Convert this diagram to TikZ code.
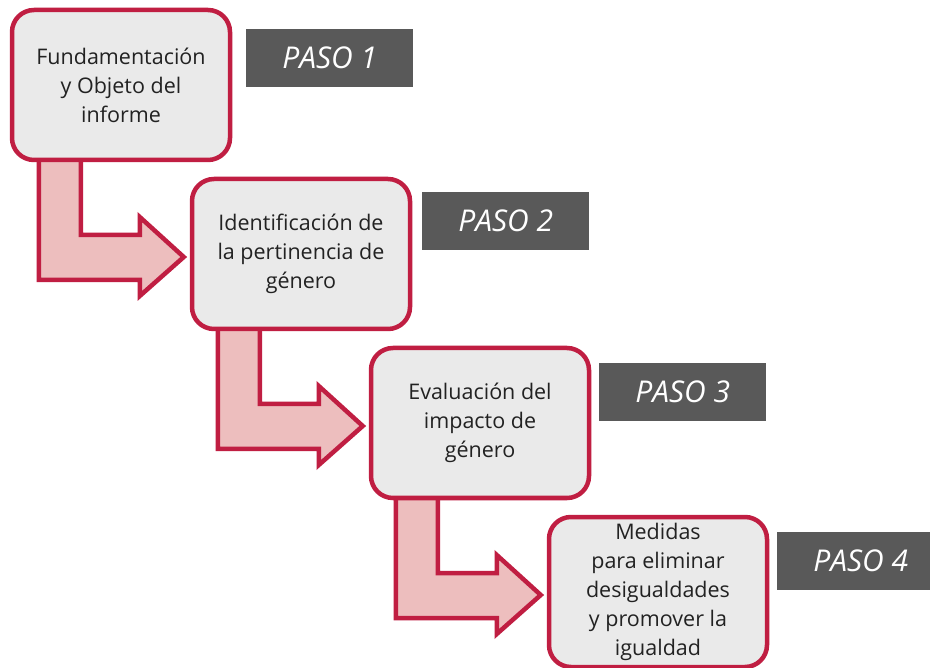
\documentclass[tikz,border=0pt]{standalone}
\usepackage{fontspec}
\setmainfont{Open Sans}
\usetikzlibrary{positioning, calc, backgrounds}

\definecolor{crimson}{RGB}{192,30,66}
\definecolor{rosefill}{RGB}{237,190,190}
\definecolor{boxgray}{RGB}{234,234,234}
\definecolor{pasogray}{RGB}{89,89,89}
\definecolor{inkgray}{RGB}{34,34,34}

\begin{document}
\begin{tikzpicture}[x=1pt, y=-1pt,
    stepbox/.style={draw=crimson, fill=boxgray, line width=4.5pt, rounded corners=22pt,
        minimum width=218pt, minimum height=150pt, align=center, text=inkgray,
        font=\fontsize{21.5}{29}\selectfont, inner sep=0pt},
    pasobox/.style={fill=pasogray, text=white, minimum width=167pt, minimum height=58pt,
        font=\fontsize{30}{32}\selectfont\itshape},
    steparrow/.style={draw=crimson, fill=rosefill, line width=4.5pt, line join=miter}]

    \useasboundingbox (0,0) rectangle (930,668);
    \clip (0,0) rectangle (930,668);

    % the four steps
    \node[stepbox] (b1) at (121,85) {Fundamentación\\y Objeto del\\informe};
    \node[stepbox] (b2) at (301,254) {Identificación de\\la pertinencia de\\género};
    \node[stepbox] (b3) at (480,423) {Evaluación del\\impacto de\\género};
    \node[stepbox] (b4) at (658,592) {Medidas\\para eliminar\\desigualdades\\y promover la\\igualdad};

    % step labels
    \node[pasobox, anchor=west] (p1) at (246,58) {PASO 1};
    \node[pasobox, anchor=west] (p2) at (422,221) {PASO 2};
    \node[pasobox, anchor=west] (p3) at (599,392) {PASO 3};
    \node[pasobox, anchor=west] (p4) at (777,561) {PASO 4};

    \begin{pgfonlayer}{background}
    \fill[white] (0,0) rectangle (930,668);
    \foreach \a/\b in {b1/b2, b2/b3, b3/b4}
        \draw[steparrow] ([shift={(-6,3)}]\b.west) -- ++(-44,-40) -- ++(0,18) -- ++(-59,0)
            -- ++(0,-120) -- ++(-42,0) -- ++(0,165) -- ++(101,0) -- ++(0,16) -- cycle;
    \end{pgfonlayer}
\end{tikzpicture}
\end{document}
